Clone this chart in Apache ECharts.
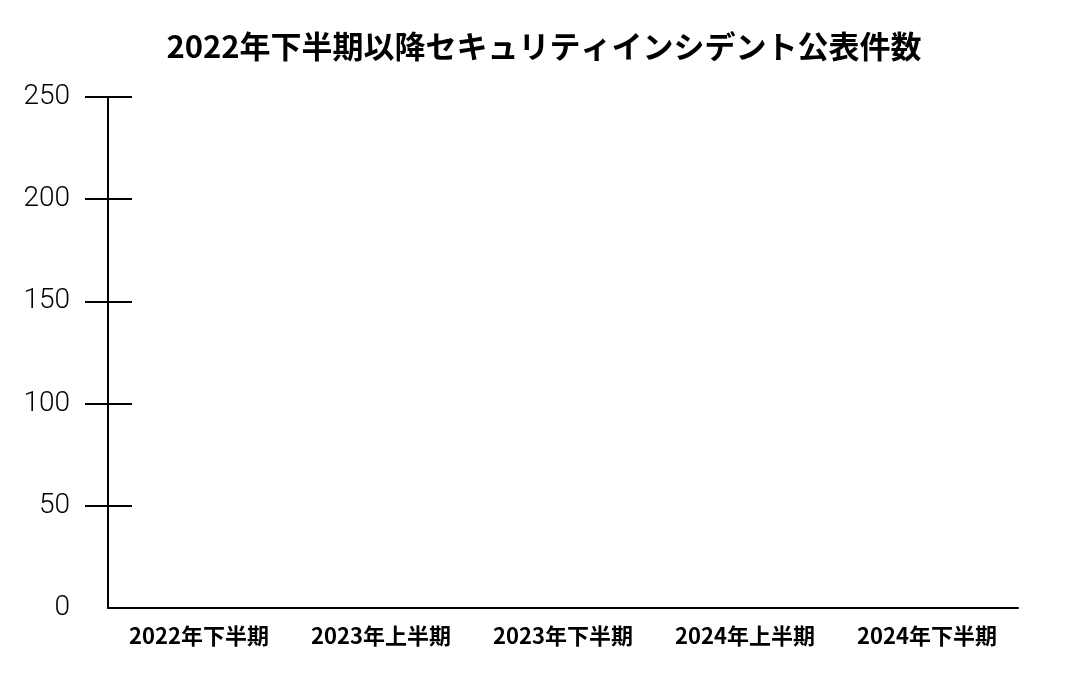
<!DOCTYPE html>
<html>
<head>
<meta charset="utf-8">
<script src="https://cdn.jsdelivr.net/npm/echarts@6/dist/echarts.min.js"></script>
<style>
html, body { margin: 0; padding: 0; background: #fff; }
#main { width: 1088px; height: 676px; }
</style>
</head>
<body>
<div id="main"></div>
<script>
var titleText = '2022年下半期以降セキュリティインシデント公表件数';
var categories = ['2022年下半期', '2023年上半期', '2023年下半期', '2024年上半期', '2024年下半期'];
// no bars are visible in the picture
var counts = [0, 0, 0, 0, 0];
var yTicks = [0, 50, 100, 150, 200, 250];

var cjk = '"Noto Sans CJK JP", sans-serif';
var tickMarks = yTicks.slice(1); // no tick mark drawn at 0
var chart = echarts.init(document.getElementById('main'));
chart.setOption({
    backgroundColor: '#fff',
    animation: false,
    title: {
        text: titleText,
        left: 'center',
        top: 26,
        textStyle: { fontFamily: cjk, fontWeight: 'bold', fontSize: 31, color: '#000' }
    },
    grid: { left: 108, right: 70, top: 97, bottom: 68, containLabel: false },
    xAxis: {
        type: 'category',
        data: categories,
        axisLine: { lineStyle: { color: '#000', width: 2 } },
        axisTick: { show: false },
        axisLabel: { margin: 17, fontFamily: cjk, fontWeight: 'bold', fontSize: 22, color: '#000', interval: 0 }
    },
    yAxis: [{
        type: 'value',
        min: yTicks[0],
        max: yTicks[yTicks.length - 1],
        interval: 50,
        axisLine: { show: true, lineStyle: { color: '#000', width: 2 } },
        axisTick: { show: true, length: 23, customValues: tickMarks, lineStyle: { color: '#000', width: 2 } },
        splitLine: { show: false },
        axisLabel: { margin: 38, padding: [4, 0, 0, 0], fontFamily: 'Roboto, sans-serif', fontWeight: 300, fontSize: 28, color: '#000' }
    }, {
        // inner half of the tick marks
        type: 'value',
        position: 'left',
        min: yTicks[0],
        max: yTicks[yTicks.length - 1],
        interval: 50,
        axisLine: { show: false },
        axisTick: { show: true, inside: true, length: 24, customValues: tickMarks, lineStyle: { color: '#000', width: 2 } },
        splitLine: { show: false },
        axisLabel: { show: false }
    }],
    series: [{
        type: 'bar',
        data: counts,
        itemStyle: { color: '#4472c4' }
    }]
});
</script>
</body>
</html>
